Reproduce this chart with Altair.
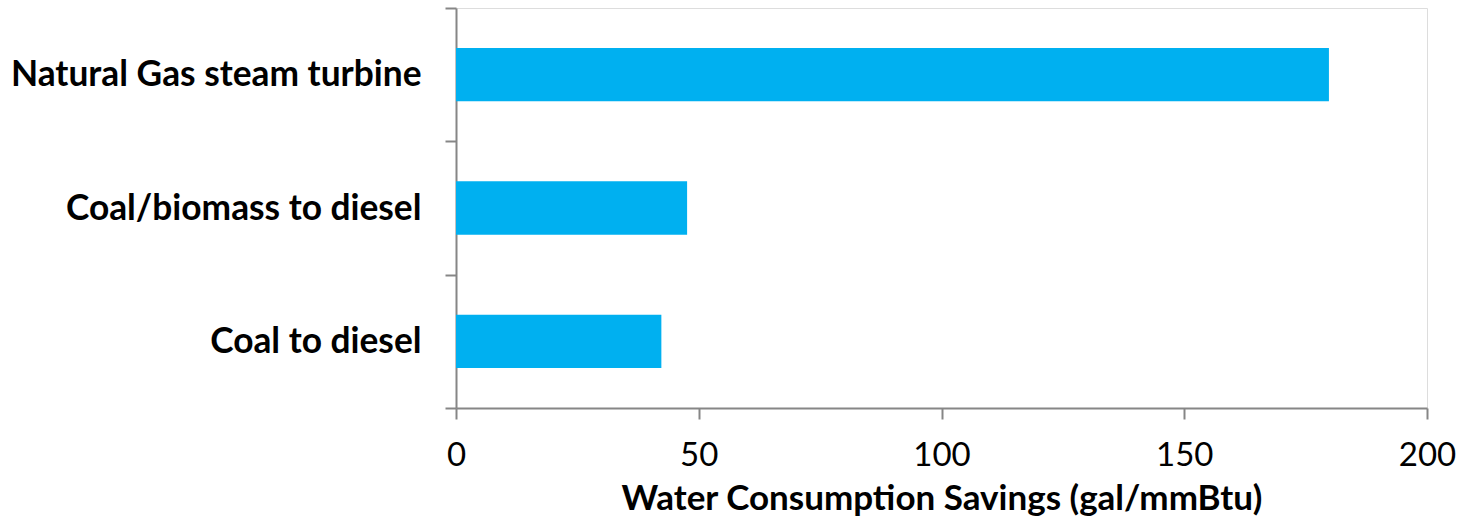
import altair as alt
import pandas as pd

# Water consumption savings by process (gal/mmBtu)
processes = ["Natural Gas steam turbine", "Coal/biomass to diesel", "Coal to diesel"]
savings = [179.8, 47.6, 42.3]

x_ticks = [0, 50, 100, 150, 200]

df = pd.DataFrame({"process": processes, "savings": savings})

AXIS_GREY = "#868686"
FONT = "Lato"

bars = alt.Chart(df).mark_bar(
    color="#00B0F0",
    height={"band": 0.4},
).encode(
    y=alt.Y(
        "process:N",
        sort=processes,
        scale=alt.Scale(paddingInner=0, paddingOuter=0),
        axis=alt.Axis(
            title=None,
            tickBand="extent",
            tickSize=11,
            tickColor=AXIS_GREY,
            tickWidth=2,
            domainColor=AXIS_GREY,
            domainWidth=2,
            labelPadding=24,
            labelFont=FONT,
            labelFontWeight="bold",
            labelFontSize=35.3,
            labelColor="black",
            labelLimit=600,
        ),
    ),
    x=alt.X(
        "savings:Q",
        scale=alt.Scale(domain=[0, 200], nice=False),
        axis=alt.Axis(
            values=x_ticks,
            grid=False,
            tickSize=11,
            tickColor=AXIS_GREY,
            tickWidth=2,
            domainColor=AXIS_GREY,
            domainWidth=2,
            labelPadding=20,
            labelFont=FONT,
            labelFontSize=33,
            labelColor="black",
            labelFlush=False,
            title="Water Consumption Savings (gal/mmBtu)",
            titleFont=FONT,
            titleFontWeight="bold",
            titleFontSize=35,
            titleColor="black",
            titlePadding=9,
        ),
    ),
)

chart = bars.properties(
    width=971,
    height=400,
    autosize=alt.AutoSizeParams(type="none"),
    padding={"left": 456, "top": 8, "right": 44, "bottom": 108},
).configure_view(
    stroke=AXIS_GREY,
    strokeWidth=2,
).configure(background="white")

chart.save("out.html", embed_options={"renderer": "svg", "actions": False})
